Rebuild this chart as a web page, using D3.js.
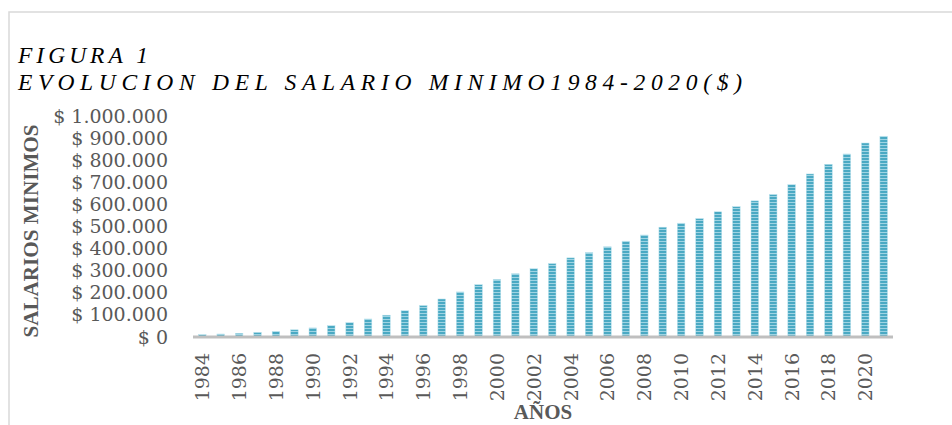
<!DOCTYPE html>
<html>
<head>
<meta charset="utf-8">
<script src="https://cdn.jsdelivr.net/npm/d3@7"></script>
<style>
  body { margin: 0; background: #fff; }
</style>
</head>
<body>
<div id="chart"></div>
<script>
// data: salario minimo por año
const years = [1984, 1985, 1986, 1987, 1988, 1989, 1990, 1991, 1992, 1993,
    1994, 1995, 1996, 1997, 1998, 1999, 2000, 2001, 2002, 2003,
    2004, 2005, 2006, 2007, 2008, 2009, 2010, 2011, 2012, 2013,
    2014, 2015, 2016, 2017, 2018, 2019, 2020, 2021];
const salario = [11298, 13558, 16811, 20510, 25637, 32560, 41025, 51716, 65190, 81510,
    98700, 118934, 142125, 172005, 203826, 236460, 260100, 286000, 309000, 332000,
    358000, 381500, 408000, 433700, 461500, 496900, 515000, 535600, 566700, 589500,
    616000, 644350, 689455, 737717, 781242, 828116, 877803, 908526];
const yTicks = [0, 100000, 200000, 300000, 400000, 500000, 600000, 700000, 800000, 900000, 1000000];
const xTickYears = years.filter(y => y % 2 == 0 && y <= 2020);

const titleLines = ["FIGURA 1", "EVOLUCION DEL SALARIO MINIMO1984-2020($)"];

function generate() {
    var dimension = {
        width: 952,
        height: 425,
        margin: { top: 116, left: 193, bottom: 88, right: 59 }
    }
    dimension.boundedWidth = dimension.width - dimension.margin.left - dimension.margin.right;
    dimension.boundedHeight = dimension.height - dimension.margin.top - dimension.margin.bottom;

    const svg = d3.select("#chart").append("svg")
        .attr("width", dimension.width)
        .attr("height", dimension.height);

    // frame
    svg.append("rect")
        .attr("x", 9).attr("y", 12)
        .attr("width", 1000).attr("height", 500)
        .attr("fill", "none")
        .attr("stroke", "#d9d9d9")
        .attr("stroke-width", 1.5);

    // stripe pattern for bars
    const pat = svg.append("defs").append("pattern")
        .attr("id", "stripes")
        .attr("patternUnits", "userSpaceOnUse")
        .attr("width", 4).attr("height", 3);
    pat.append("rect").attr("width", 4).attr("height", 3).attr("fill", "#4aa9c3");
    pat.append("rect").attr("y", 2).attr("width", 4).attr("height", 1).attr("fill", "#9fd4e3");

    // title
    svg.append("text")
        .attr("x", 18).attr("y", 63)
        .attr("textLength", 130)
        .attr("lengthAdjust", "spacing")
        .style("font-family", "Liberation Serif")
        .style("font-style", "italic")
        .style("font-size", "23.5px")
        .attr("fill", "#000")
        .text(titleLines[0]);
    svg.append("text")
        .attr("x", 18).attr("y", 90)
        .attr("textLength", 724)
        .attr("lengthAdjust", "spacing")
        .style("font-family", "Liberation Serif")
        .style("font-style", "italic")
        .style("font-size", "23.5px")
        .attr("fill", "#000")
        .text(titleLines[1]);

    const bounded = svg.append("g")
        .attr("transform", `translate(${dimension.margin.left},${dimension.margin.top})`);

    // scales
    const xScaler = d3.scaleBand()
        .domain(years)
        .range([0, dimension.boundedWidth])
        .paddingInner(0.59)
        .paddingOuter(0.3);

    const yScaler = d3.scaleLinear()
        .domain([0, 1000000])
        .range([dimension.boundedHeight, 0]);

    // y axis
    const fmt = v => "$ " + d3.format(",")(v).replace(/,/g, ".");
    const yAxis = bounded.append("g")
        .call(d3.axisLeft(yScaler).tickValues(yTicks).tickSize(0).tickPadding(25).tickFormat(fmt));
    yAxis.select(".domain").remove();
    yAxis.selectAll("text")
        .style("font-family", "DejaVu Serif")
        .style("font-size", "19px")
        .attr("fill", "#595959");

    // bars
    bounded.selectAll("rect.bar")
        .data(years)
        .join("rect")
        .attr("class", "bar")
        .attr("x", d => xScaler(d))
        .attr("width", xScaler.bandwidth())
        .attr("y", (d, i) => yScaler(salario[i]))
        .attr("height", (d, i) => yScaler(0) - yScaler(salario[i]))
        .attr("fill", "url(#stripes)")
        .attr("stroke", "#b5e0ec")
        .attr("stroke-width", 0.5);

    // x axis
    const xAxis = bounded.append("g")
        .attr("transform", `translate(0,${dimension.boundedHeight})`)
        .call(d3.axisBottom(xScaler).tickValues(xTickYears).tickSize(0).tickPadding(0));
    xAxis.select(".domain").remove();
    xAxis.selectAll("text")
        .style("font-family", "DejaVu Serif")
        .style("font-size", "19px")
        .attr("fill", "#595959")
        .attr("text-anchor", "end")
        .attr("dy", null)
        .attr("y", 0)
        .attr("transform", "translate(0,16) rotate(-90)")
        .attr("x", 0)
        .attr("dominant-baseline", "central");

    // baseline
    bounded.append("line")
        .attr("x1", 0).attr("x2", dimension.boundedWidth)
        .attr("y1", yScaler(0)).attr("y2", yScaler(0))
        .attr("stroke", "#bfbfbf")
        .attr("stroke-width", 3);

    // axis titles
    svg.append("text")
        .attr("transform", "translate(38,231) rotate(-90)")
        .attr("text-anchor", "middle")
        .attr("textLength", 213)
        .attr("lengthAdjust", "spacingAndGlyphs")
        .style("font-family", "Liberation Serif")
        .style("font-weight", "bold")
        .style("font-size", "22px")
        .attr("fill", "#595959")
        .text("SALARIOS MINIMOS");

    svg.append("text")
        .attr("x", dimension.margin.left + dimension.boundedWidth / 2)
        .attr("y", 419)
        .attr("text-anchor", "middle")
        .style("font-family", "Liberation Serif")
        .style("font-weight", "bold")
        .style("font-size", "21px")
        .attr("fill", "#595959")
        .text("AÑOS");
}

generate()
</script>
</body>
</html>
